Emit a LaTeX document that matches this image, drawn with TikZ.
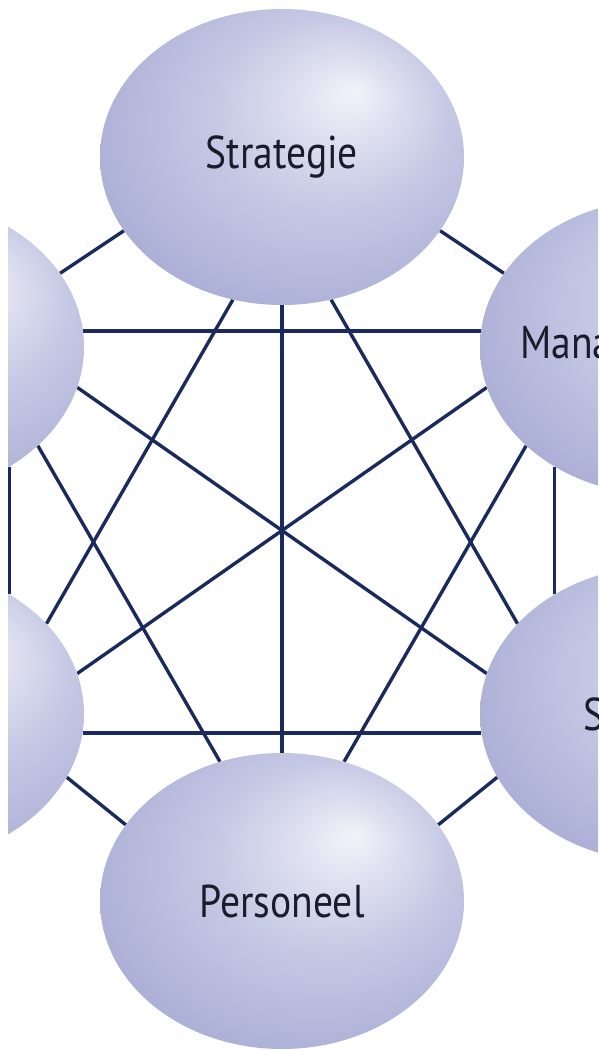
\documentclass[tikz,border=0pt]{standalone}
\usepackage{fontspec}
\setmainfont{PT Sans}
\usetikzlibrary{shapes.geometric, backgrounds}
\definecolor{navyL}{HTML}{1B2A5C}
\definecolor{inkT}{HTML}{1A1C2C}
\definecolor{bubHi}{HTML}{F2F3F9}
\definecolor{bubA}{HTML}{E0E2F1}
\definecolor{bubB}{HTML}{C6C9E4}
\definecolor{bubC}{HTML}{ADB1D7}
\definecolor{bubLo}{HTML}{969BC9}
\pgfdeclareradialshading{bubshade}{\pgfpoint{10bp}{11bp}}{%
  color(0bp)=(bubHi); color(6bp)=(bubA); color(16bp)=(bubB);
  color(30bp)=(bubC); color(42bp)=(bubLo); color(50bp)=(bubLo)}
% tekst in de ellips: smal en zonder invloed op de maat
\newcommand{\bubtext}[1]{\makebox[0pt]{\scalebox{0.86}[1]{#1}}}

\begin{document}
\begin{tikzpicture}[
  x=1pt, y=-1pt,
  bubble/.style={
    ellipse, shading=bubshade,
    minimum width=364pt, minimum height=296pt,
    inner sep=0pt, text=inkT,
    font=\fontsize{46}{52}\selectfont
  },
  link/.style={navyL, line width=3.4pt}
]
\useasboundingbox (0,0) rectangle (598,1051);

%% ═══ ELLIPSEN ═══
\begin{scope}
\clip (8,0) rectangle (598,1051);
\node[bubble] (strat) at (282,157) {\bubtext{Strategie}};
\node[bubble] (mgmt) at (662,347) {\bubtext{Managementstijl}};
\node[bubble] (struc) at (662,714) {\bubtext{Structuur}};
\node[bubble] (pers) at (282,901) {\bubtext{Personeel}};
\node[bubble] (lefttop) at (-98,347) {};
\node[bubble] (leftbot) at (-98,714) {};
\end{scope}

%% ═══ VERBINDINGEN ═══
\begin{scope}[on background layer]
\fill[white] (0,0) rectangle (598,1051);
% rand
\draw[link] (strat.-25) -- (mgmt.155);
\draw[link] (strat.205) -- (lefttop.25);
\draw[link] (mgmt.228) -- (struc.132);
\draw[link] (lefttop.-48) -- (leftbot.48);
\draw[link] (struc.201) -- (pers.26);
\draw[link] (leftbot.-21) -- (pers.154);
% horizontaal en verticaal
\draw[link] (lefttop.5) -- (mgmt.175);
\draw[link] (leftbot.-6) -- (struc.186);
\draw[link] (strat.270) -- (pers.90);
% diagonalen
\draw[link] (lefttop.-13) -- (struc.167);
\draw[link] (mgmt.193) -- (leftbot.13);
\draw[link] (strat.251) -- (leftbot.32);
\draw[link] (strat.289) -- (struc.148);
\draw[link] (lefttop.-36) -- (pers.114);
\draw[link] (mgmt.216) -- (pers.66);
\end{scope}
\end{tikzpicture}
\end{document}
